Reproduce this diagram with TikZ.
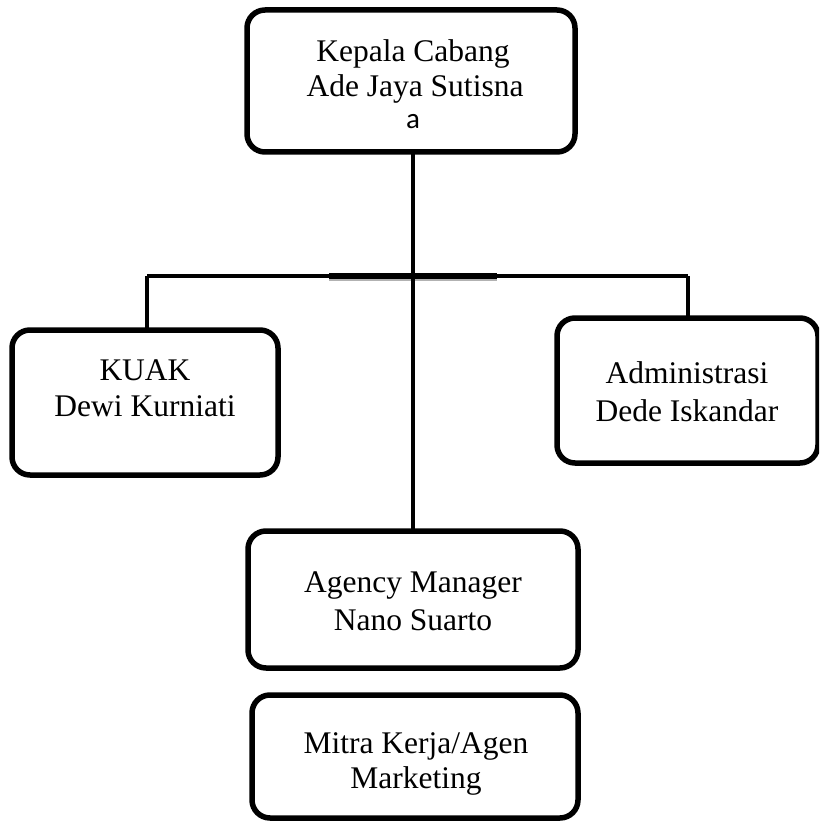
\documentclass[tikz,border=0pt]{standalone}
\usepackage{fontspec}
\setmainfont{Liberation Serif}
\newfontfamily\smallsans{Carlito}
\begin{document}
\begin{tikzpicture}[x=1pt,y=-1pt,
  box/.style={draw=black, line width=5.5pt, rounded corners=18pt, fill=white},
  lbl/.style={anchor=base, inner sep=0pt, font=\fontsize{31.5}{36}\selectfont},
  conn/.style={draw=black, line width=4pt},
  shadowline/.style={draw=black!30, line width=4pt}]
\useasboundingbox (0,0) rectangle (819,821);
\clip (0,0) rectangle (819,821);
% connectors (drawn first, beneath boxes)
\coordinate (hl) at (147,276);
\coordinate (hr) at (688,276);
\coordinate (hc) at (413,276);
\coordinate (tl) at (329,276);
\coordinate (tr) at (497,276);
\draw[shadowline] ([yshift=-3pt]tl) -- ([yshift=-3pt]tr);
\draw[conn] (hl) -- (hr);
\draw[draw=black, line width=5.5pt] (tl) -- (tr);
% boxes
\path[box] (247,10) rectangle (575,152);
\node[inner sep=0pt, minimum size=0pt] (top) at (411,81) {};
\path[box] (12,330) rectangle (278,475);
\node[inner sep=0pt] (kuak) at (145,402) {};
\path[box] (557,318) rectangle (818,463);
\node[inner sep=0pt] (adm) at (687,390) {};
\path[box] (248,531) rectangle (578,668);
\node[inner sep=0pt] (agm) at (413,599) {};
\path[box] (252,695) rectangle (578,818);
\node[inner sep=0pt] (mitra) at (415,756) {};
% connectors
\draw[conn] (413,154) -- (413,529);
\draw[conn] (hl) -- (147,328);
\draw[conn] (hr) -- (688,316);
% texts
\node[lbl] (t1) at (413,62) {Kepala Cabang};
\node[lbl] (t2) at (415,97) {Ade Jaya Sutisna};
\node[lbl, font=\smallsans\fontsize{29}{34}\selectfont] (t3) at (413,129) {a};
\node[lbl] (k1) at (145,380) {KUAK};
\node[lbl] (k2) at (145,416) {Dewi Kurniati};
\node[lbl] (a1) at (687,383) {Administrasi};
\node[lbl] (a2) at (687,421) {Dede Iskandar};
\node[lbl] (g1) at (413,592) {Agency Manager};
\node[lbl] (g2) at (413,630) {Nano Suarto};
\node[lbl] (m1) at (416,753) {Mitra Kerja/Agen};
\node[lbl] (m2) at (416,788) {Marketing};
\end{tikzpicture}
\end{document}
